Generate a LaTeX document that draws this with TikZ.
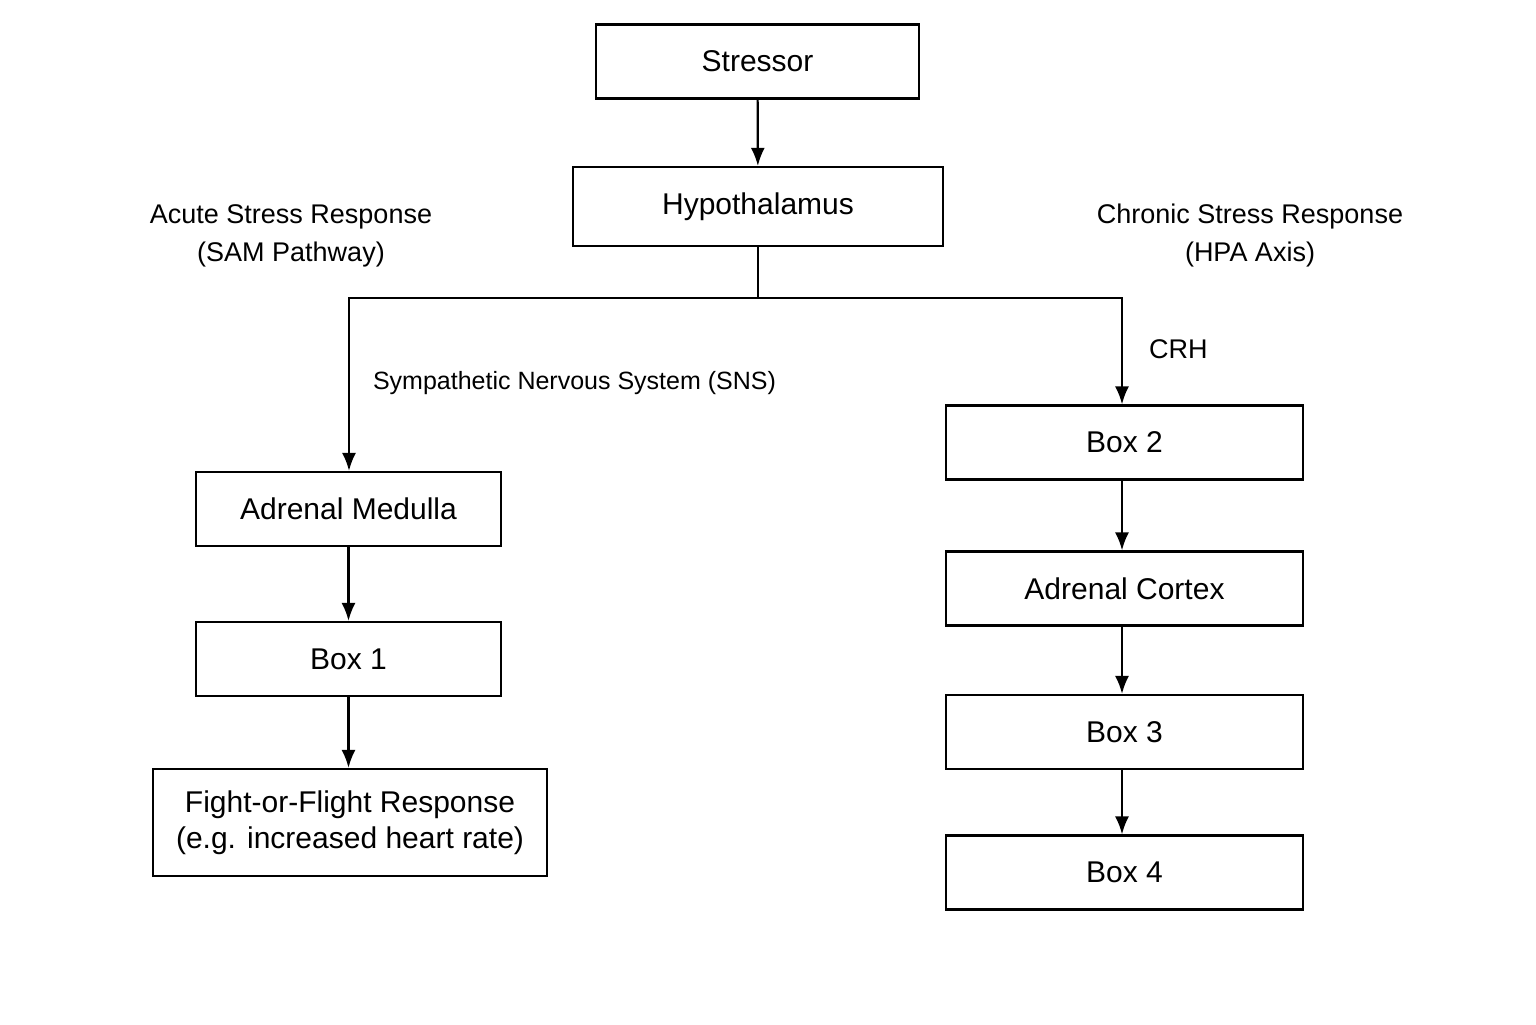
\documentclass[tikz,border=0pt]{standalone}
\usepackage{fontspec}
\setmainfont{Liberation Sans}
\usetikzlibrary{arrows.meta}
\begin{document}
\begin{tikzpicture}[x=0.5pt,y=-0.5pt,
  box/.style={draw,line width=1.1pt,minimum height=37pt,inner sep=0pt,font=\fontsize{15}{18}\selectfont,align=center},
  lbl/.style={font=\fontsize{13.5}{19}\selectfont,align=center},
  arr/.style={-{Latex[length=9pt,width=7pt]},line width=1.1pt}]
\useasboundingbox (0,0) rectangle (1536,1024);
\node[box,minimum width=161.5pt] (st) at (757.5,61.5) {Stressor};
\node[box,minimum width=185pt,minimum height=39.5pt] (hy) at (758,206.5) {Hypothalamus};
\node[box,minimum width=152.5pt] (am) at (348.5,509) {Adrenal Medulla};
\node[box,minimum width=152.5pt] (b1) at (348.5,659) {Box 1};
\node[box,minimum width=197pt,minimum height=53.5pt] (ff) at (350,822.5) {Fight-or-Flight Response\\(e.g. increased heart rate)};
\node[box,minimum width=178.5pt] (b2) at (1124.5,442.5) {Box 2};
\node[box,minimum width=178.5pt] (ac) at (1124.5,588.5) {Adrenal Cortex};
\node[box,minimum width=178.5pt] (b3) at (1124.5,732) {Box 3};
\node[box,minimum width=178.5pt] (b4) at (1124.5,872.5) {Box 4};
\coordinate (j) at (758,298);
\coordinate (jl) at (349,298);
\coordinate (jr) at (1122,298);
\node[lbl] at (291,236) {Acute Stress Response\\(SAM Pathway)};
\node[lbl] at (1250,236) {Chronic Stress Response\\(HPA Axis)};
\node[lbl,anchor=west,font=\fontsize{12.5}{15}\selectfont] at (366,383) {Sympathetic Nervous System (SNS)};
\node[lbl,anchor=west] at (1142,349) {CRH};
\draw[arr] (st) -- (hy);
\draw[line width=1.1pt] (hy.south) -- (j);
\draw[arr] (j) -- (jl) -- (am.north -| jl);
\draw[arr] (j) -- (jr) -- (b2.north -| jr);
\draw[arr] (am) -- (b1);
\draw[arr] (b1) -- (ff.north -| b1);
\draw[arr] (b2.south -| jr) -- (ac.north -| jr);
\draw[arr] (ac.south -| jr) -- (b3.north -| jr);
\draw[arr] (b3.south -| jr) -- (b4.north -| jr);
\end{tikzpicture}
\end{document}
